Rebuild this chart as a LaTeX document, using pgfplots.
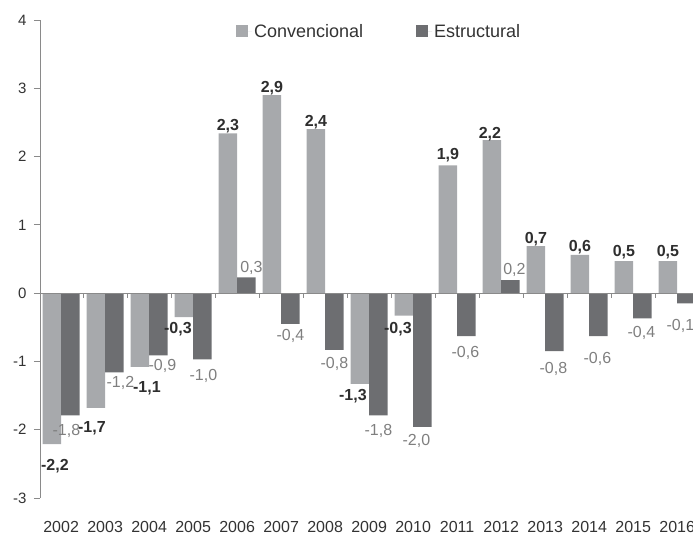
\documentclass[border=0pt]{standalone}
\usepackage{fontspec}
\setmainfont{Liberation Sans}
\usepackage{pgfplots}
\usepackage{pgfplotstable}
\pgfplotsset{compat=1.18}
\definecolor{conv}{HTML}{A7A9AC}
\definecolor{estr}{HTML}{6D6E71}
\definecolor{axisgray}{HTML}{8A8A8A}
\definecolor{elabc}{HTML}{7F7F7F}
\definecolor{clabc}{HTML}{2E2E2E}
% x, value, label, label x offset and baseline y offset (pt) from the bar end
\pgfplotstableread{
x conv clab cdx cdy
0 -2.21 -2,2 3 -26.5
1 -1.68 -1,7 -4 -24.5
2 -1.08 -1,1 7 -25.5
3 -0.35 -0,3 -6 -16.5
4 2.34 2,3 0 3
5 2.90 2,9 0 3
6 2.40 2,4 0 3
7 -1.33 -1,3 -7 -16.5
8 -0.33 -0,3 -6 -17.5
9 1.87 1,9 0 6
10 2.24 2,2 -2 2
11 0.69 0,7 0 3
12 0.56 0,6 0 3
13 0.47 0,5 0 5
14 0.47 0,5 0 5
}\convtable
\pgfplotstableread{
x estr elab edx edy
0 -1.79 -1,8 -4 -20.5
1 -1.16 -1,2 6 -15.5
2 -0.91 -0,9 4 -15.5
3 -0.97 -1,0 1 -21.5
4 0.23 0,3 5 5
5 -0.45 -0,4 0 -16.5
6 -0.83 -0,8 0 -18.5
7 -1.79 -1,8 0 -20.5
8 -1.96 -2,0 -6 -18.5
9 -0.63 -0,6 -1 -21.5
10 0.19 0,2 4 6
11 -0.85 -0,8 -1 -22.5
12 -0.63 -0,6 -1 -27.5
13 -0.37 -0,4 -1 -19.5
14 -0.15 -0,1 -6 -27.5
}\estrtable
\begin{document}
\begin{tikzpicture}
\begin{axis}[
  scale only axis,
  width=653pt, height=478pt,
  ybar=0pt, bar width=18.5pt,
  xmin=-0.48, xmax=14.36,
  ymin=-3, ymax=4,
  ytick={-3,-2,...,4},
  xtick={0,...,14},
  xticklabels={2002,2003,2004,2005,2006,2007,2008,2009,2010,2011,2012,2013,2014,2015,2016},
  axis x line*=bottom,
  x axis line style={draw=none},
  axis y line*=left,
  y axis line style={draw=axisgray, line width=0.8pt, -},
  ytick style={draw=axisgray, line width=0.8pt},
  major tick length=6pt,
  tick align=outside,
  /pgf/number format/assume math mode=true,
  yticklabel style={font=\fontsize{15}{18}\selectfont, text=black!80, xshift=-4pt},
  xticklabel style={font=\fontsize{16}{19}\selectfont, text=black!80, yshift=-14pt},
  x tick style={draw=none},
  legend style={at={(rel axis cs:0.3,0.995)}, anchor=north west, draw=none, fill=none,
    legend columns=2, font=\fontsize{18}{21}\selectfont, text=black!80,
    /tikz/every even column/.append style={column sep=51pt},
    inner xsep=0pt, inner ysep=0pt},
  legend image code/.code={\fill[#1] (0pt,-5pt) rectangle (12pt,7pt); \path (0pt,0pt) -- (16pt,0pt);},
  point meta=explicit symbolic,
  nodes near coords,
  clip=false,
]
\addplot[fill=conv, draw=none,
  visualization depends on={\thisrow{cdx} \as \lblx},
  visualization depends on={\thisrow{cdy} \as \lbly},
  every node near coord/.append style={font=\bfseries\fontsize{16}{19}\selectfont, text=clabc,
    inner sep=0pt, anchor=base, xshift=\lblx pt, yshift=\lbly pt}]
  table[x=x, y=conv, meta=clab]{\convtable};
\addlegendentry{Convencional}
\addplot[fill=estr, draw=none,
  visualization depends on={\thisrow{edx} \as \lblx},
  visualization depends on={\thisrow{edy} \as \lbly},
  every node near coord/.append style={font=\fontsize{16}{19}\selectfont, text=elabc,
    inner sep=0pt, anchor=base, xshift=\lblx pt, yshift=\lbly pt}]
  table[x=x, y=estr, meta=elab]{\estrtable};
\addlegendentry{Estructural}
\draw[axisgray, line width=0.8pt] (axis cs:-0.48,0) -- (axis cs:14.36,0);
\pgfplotsinvokeforeach{0.5,1.5,...,13.5}{\draw[axisgray, line width=0.8pt] (axis cs:#1,0) -- ([yshift=-5pt]axis cs:#1,0);}
\coordinate (bl) at (rel axis cs:0,0);
\coordinate (tr) at (rel axis cs:1,1);
\end{axis}
\pgfresetboundingbox
\path ([xshift=-40pt,yshift=-37pt]bl) rectangle ([yshift=20pt]tr);
\end{tikzpicture}
\end{document}
